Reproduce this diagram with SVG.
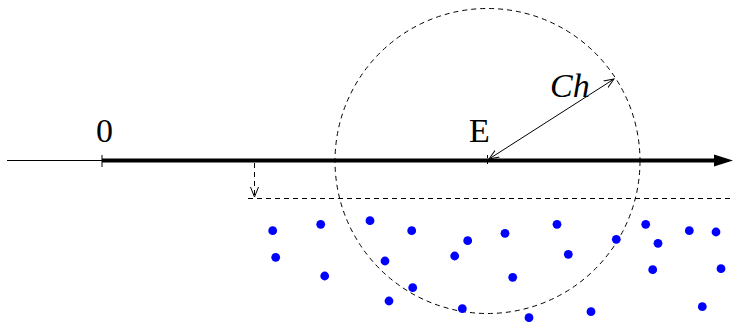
<svg xmlns="http://www.w3.org/2000/svg" width="733" height="322" viewBox="0 0 733 322">
<style>
.lbl{font-family:"Liberation Serif","Times New Roman",serif;font-size:34px;fill:#000}
.dot{fill:#0000ff}
.dash{fill:none;stroke:#000;stroke-width:1;stroke-dasharray:5,4}
</style>
<defs>
<marker id="open" markerWidth="12" markerHeight="10" refX="10" refY="5" orient="auto" markerUnits="userSpaceOnUse">
<path d="M0,1 L10,5 L0,9" fill="none" stroke="#000" stroke-width="1"/>
</marker>
<marker id="openS" markerWidth="12" markerHeight="10" refX="2" refY="5" orient="auto" markerUnits="userSpaceOnUse">
<path d="M12,1 L2,5 L12,9" fill="none" stroke="#000" stroke-width="1"/>
</marker>
</defs>
<rect width="733" height="322" fill="#fff"/>
<g id="axis">
<line x1="7" y1="160.5" x2="102" y2="160.5" stroke="#000" stroke-width="1"/>
<line x1="102" y1="160.5" x2="718" y2="160.5" stroke="#000" stroke-width="4"/>
<path d="M714,154.5 L733,160.5 L714,166.5 Z" fill="#000"/>
<line x1="102" y1="155" x2="102" y2="167" stroke="#000" stroke-width="1"/>
<line x1="487.5" y1="155" x2="487.5" y2="167" stroke="#000" stroke-width="1" stroke-dasharray="3,3"/>
</g>
<g id="circle">
<circle cx="487.5" cy="161" r="152.5" class="dash"/>
</g>
<g id="boundary">
<line x1="248" y1="198.5" x2="733" y2="198.5" class="dash"/>
</g>
<g id="connectors">
<line x1="254.5" y1="163" x2="254.5" y2="197" class="dash" stroke-dasharray="4,3" marker-end="url(#open)"/>
<line x1="489" y1="159" x2="614" y2="79" stroke="#000" stroke-width="1" marker-start="url(#openS)" marker-end="url(#open)"/>
</g>
<g id="labels">
<text class="lbl" x="104.5" y="142" text-anchor="middle">0</text>
<text class="lbl" x="469" y="142">E</text>
<text class="lbl" x="550" y="97" font-style="italic">Ch</text>
</g>
<g id="particles">
<circle class="dot" cx="272.7" cy="230.7" r="4.4"/>
<circle class="dot" cx="320.7" cy="224.3" r="4.4"/>
<circle class="dot" cx="370" cy="220.7" r="4.4"/>
<circle class="dot" cx="411.7" cy="230.7" r="4.4"/>
<circle class="dot" cx="467.7" cy="240.7" r="4.4"/>
<circle class="dot" cx="275.7" cy="257.3" r="4.4"/>
<circle class="dot" cx="454.7" cy="256" r="4.4"/>
<circle class="dot" cx="385" cy="261" r="4.4"/>
<circle class="dot" cx="324.7" cy="276" r="4.4"/>
<circle class="dot" cx="412.7" cy="287.7" r="4.4"/>
<circle class="dot" cx="389" cy="301" r="4.4"/>
<circle class="dot" cx="462.3" cy="308.7" r="4.4"/>
<circle class="dot" cx="505" cy="233.3" r="4.4"/>
<circle class="dot" cx="557" cy="224.3" r="4.4"/>
<circle class="dot" cx="645.7" cy="224.3" r="4.4"/>
<circle class="dot" cx="689.3" cy="230.7" r="4.4"/>
<circle class="dot" cx="716" cy="232" r="4.4"/>
<circle class="dot" cx="616.3" cy="239.3" r="4.4"/>
<circle class="dot" cx="658" cy="243.3" r="4.4"/>
<circle class="dot" cx="568.3" cy="254.3" r="4.4"/>
<circle class="dot" cx="512.7" cy="277.3" r="4.4"/>
<circle class="dot" cx="652.7" cy="269.7" r="4.4"/>
<circle class="dot" cx="721" cy="268.7" r="4.4"/>
<circle class="dot" cx="702.3" cy="306.7" r="4.4"/>
<circle class="dot" cx="591" cy="311.7" r="4.4"/>
<circle class="dot" cx="529" cy="317.7" r="4.4"/>
</g>
</svg>
